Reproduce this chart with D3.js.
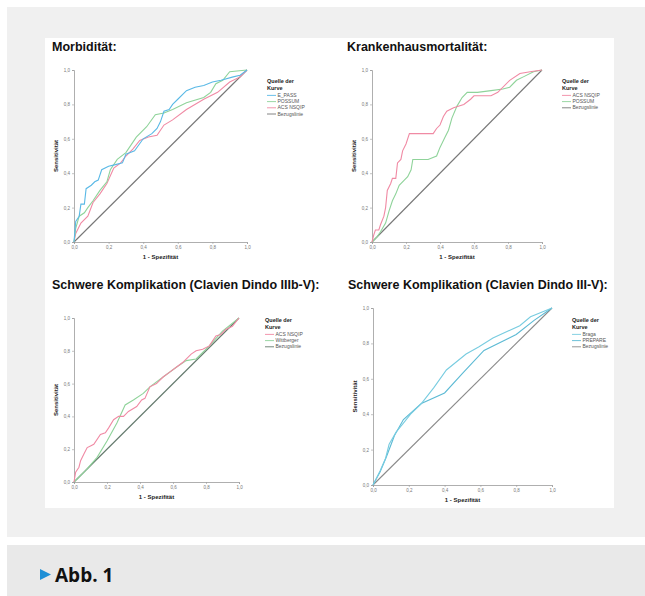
<!DOCTYPE html>
<html>
<head>
<meta charset="utf-8">
<script src="https://cdn.jsdelivr.net/npm/d3@7"></script>
<style>
  body { margin: 0; background: #fff; }
  svg { display: block; font-family: "Liberation Sans", Arial, sans-serif; }
</style>
</head>
<body>
<div id="chart"></div>
<script>
// ROC curves, points as [1 - Spezifität, Sensitivität]
const axisTicks = [0, 0.2, 0.4, 0.6, 0.8, 1.0];
const bezugslinie = [[0, 0], [1, 1]];

const morbEPASS = [[0,0],[0.01,0.12],[0.03,0.15],[0.04,0.22],[0.06,0.22],[0.07,0.31],[0.1,0.33],[0.12,0.35],[0.14,0.36],[0.16,0.42],[0.2,0.44],[0.24,0.45],[0.28,0.46],[0.3,0.51],[0.35,0.53],[0.4,0.6],[0.45,0.63],[0.48,0.66],[0.5,0.7],[0.52,0.76],[0.55,0.77],[0.57,0.8],[0.6,0.83],[0.65,0.88],[0.7,0.9],[0.75,0.91],[0.8,0.93],[0.85,0.94],[0.92,0.96],[0.96,0.97],[1,1]];
const morbPOSSUM = [[0,0],[0.01,0.08],[0.03,0.15],[0.06,0.17],[0.08,0.2],[0.11,0.24],[0.15,0.3],[0.19,0.35],[0.21,0.42],[0.25,0.48],[0.3,0.52],[0.36,0.61],[0.42,0.67],[0.47,0.74],[0.52,0.75],[0.57,0.77],[0.65,0.81],[0.75,0.84],[0.79,0.87],[0.82,0.92],[0.86,0.94],[0.9,0.99],[1,1]];
const morbACS = [[0,0],[0.01,0.05],[0.04,0.11],[0.08,0.15],[0.11,0.23],[0.15,0.28],[0.19,0.34],[0.23,0.43],[0.27,0.46],[0.3,0.5],[0.34,0.54],[0.38,0.59],[0.43,0.61],[0.48,0.62],[0.52,0.68],[0.57,0.71],[0.65,0.77],[0.75,0.83],[0.83,0.87],[0.9,0.93],[0.96,0.96],[1,1]];

const mortACS = [[0,0],[0.01,0.04],[0.02,0.07],[0.04,0.07],[0.05,0.1],[0.07,0.15],[0.08,0.2],[0.09,0.3],[0.11,0.34],[0.12,0.37],[0.14,0.37],[0.15,0.46],[0.17,0.48],[0.18,0.53],[0.2,0.57],[0.22,0.63],[0.36,0.63],[0.38,0.66],[0.4,0.68],[0.42,0.73],[0.44,0.76],[0.48,0.78],[0.54,0.8],[0.58,0.83],[0.6,0.85],[0.7,0.85],[0.74,0.87],[0.81,0.94],[0.87,0.98],[0.93,0.99],[1,1]];
const mortPOSSUM = [[0,0],[0.03,0.03],[0.05,0.06],[0.08,0.11],[0.1,0.18],[0.12,0.24],[0.14,0.28],[0.16,0.33],[0.19,0.36],[0.21,0.38],[0.23,0.42],[0.24,0.48],[0.33,0.48],[0.38,0.5],[0.4,0.55],[0.43,0.61],[0.45,0.65],[0.47,0.72],[0.5,0.79],[0.53,0.84],[0.56,0.87],[0.62,0.87],[0.7,0.88],[0.77,0.89],[0.81,0.9],[0.85,0.94],[0.89,0.96],[0.95,0.99],[1,1]];

const komplACS = [[0,0],[0.01,0.06],[0.03,0.09],[0.04,0.13],[0.06,0.17],[0.08,0.21],[0.1,0.22],[0.12,0.23],[0.16,0.29],[0.19,0.3],[0.21,0.33],[0.24,0.38],[0.27,0.4],[0.3,0.4],[0.33,0.43],[0.38,0.46],[0.41,0.5],[0.43,0.51],[0.46,0.58],[0.5,0.6],[0.54,0.64],[0.58,0.67],[0.62,0.7],[0.66,0.73],[0.71,0.78],[0.74,0.8],[0.78,0.81],[0.82,0.83],[0.86,0.89],[0.89,0.9],[0.92,0.93],[0.96,0.95],[1,1]];
const komplWittberger = [[0,0],[0.07,0.07],[0.14,0.15],[0.2,0.25],[0.26,0.36],[0.31,0.47],[0.36,0.5],[0.42,0.54],[0.46,0.58],[0.54,0.64],[0.62,0.7],[0.68,0.74],[0.74,0.75],[0.82,0.83],[0.9,0.92],[1,1]];

const braga = [[0,0],[0.04,0.08],[0.07,0.15],[0.09,0.23],[0.13,0.3],[0.17,0.35],[0.21,0.4],[0.27,0.46],[0.34,0.55],[0.41,0.65],[0.52,0.74],[0.59,0.78],[0.67,0.83],[0.82,0.9],[0.88,0.95],[1,1]];
const prepare = [[0,0],[0.04,0.075],[0.075,0.16],[0.12,0.28],[0.17,0.37],[0.27,0.46],[0.4,0.52],[0.5,0.63],[0.62,0.76],[0.8,0.85],[0.9,0.93],[1,1]];

const panels = [
  { title: "Morbidität:", tx: 52, ty: 51, x0: 74, x1: 247, y0: 70, y1: 242, lx: 267, ly: 83,
    series: [
      { name: "E_PASS", data: morbEPASS, color: "#5ab9e6" },
      { name: "POSSUM", data: morbPOSSUM, color: "#8fd39a" },
      { name: "ACS NSQIP", data: morbACS, color: "#f08aa4" },
      { name: "Bezugslinie", data: bezugslinie, color: "#777777" }] },
  { title: "Krankenhausmortalität:", tx: 347, ty: 51, x0: 372, x1: 542, y0: 70, y1: 242, lx: 562, ly: 83,
    series: [
      { name: "ACS NSQIP", data: mortACS, color: "#f08aa4" },
      { name: "POSSUM", data: mortPOSSUM, color: "#8fd39a" },
      { name: "Bezugslinie", data: bezugslinie, color: "#777777" }] },
  { title: "Schwere Komplikation (Clavien Dindo IIIb-V):", tx: 52, ty: 289, x0: 74, x1: 239, y0: 318, y1: 482, lx: 265, ly: 322,
    series: [
      { name: "ACS NSQIP", data: komplACS, color: "#f08aa4" },
      { name: "Wittberger", data: komplWittberger, color: "#8fd39a" },
      { name: "Bezugslinie", data: bezugslinie, color: "#647a6d" }] },
  { title: "Schwere Komplikation (Clavien Dindo III-V):", tx: 348, ty: 289, x0: 373, x1: 552, y0: 308, y1: 485, lx: 572, ly: 322,
    series: [
      { name: "Braga", data: braga, color: "#78cce0" },
      { name: "PREPARE", data: prepare, color: "#5cbad4" },
      { name: "Bezugslinie", data: bezugslinie, color: "#8a8a8a" }] }
];

const W = 645, H = 596;
const svg = d3.select("#chart").append("svg")
  .attr("width", W)
  .attr("height", H);

// backgrounds
svg.append("rect").attr("x", 7).attr("y", 7).attr("width", W - 7).attr("height", 530).attr("fill", "#f0f0f0");
svg.append("rect").attr("x", 45).attr("y", 38).attr("width", 569).attr("height", 470).attr("fill", "#ffffff");
svg.append("rect").attr("x", 7).attr("y", 545).attr("width", W - 7).attr("height", 51).attr("fill", "#e9e9e9");

// caption
svg.append("path").attr("d", "M40,569 L51,574.5 L40,580 Z").attr("fill", "#1e8fd6");
svg.append("text")
  .attr("x", 55).attr("y", 582)
  .attr("font-family", "'Liberation Sans Narrow', 'Open Sans', sans-serif")
  .attr("font-weight", "bold")
  .attr("font-size", 19)
  .attr("fill", "#111")
  .text("Abb. 1");

const fmt = d => d.toFixed(1).replace(".", ",");

panels.forEach(p => {
  const g = svg.append("g");

  g.append("text")
    .attr("x", p.tx).attr("y", p.ty)
    .attr("font-weight", "bold")
    .attr("font-size", 12.5)
    .attr("fill", "#111")
    .text(p.title);

  const x = d3.scaleLinear().domain([0, 1]).range([p.x0, p.x1]);
  const y = d3.scaleLinear().domain([0, 1]).range([p.y1, p.y0]);

  const xAxis = g.append("g")
    .attr("transform", `translate(0,${p.y1})`)
    .call(d3.axisBottom(x).tickValues(axisTicks).tickFormat(fmt).tickSize(2).tickPadding(2));
  const yAxis = g.append("g")
    .attr("transform", `translate(${p.x0},0)`)
    .call(d3.axisLeft(y).tickValues(axisTicks).tickFormat(fmt).tickSize(2).tickPadding(2));

  [xAxis, yAxis].forEach(a => {
    a.select(".domain").attr("stroke", "#9a9a9a").attr("stroke-width", 0.8);
    a.selectAll(".tick line").attr("stroke", "#9a9a9a").attr("stroke-width", 0.6);
    a.selectAll(".tick text").attr("font-size", 4.5).attr("fill", "#777").attr("font-family", "'Liberation Sans', Arial, sans-serif");
  });

  g.append("text")
    .attr("x", (p.x0 + p.x1) / 2).attr("y", p.y1 + 17)
    .attr("text-anchor", "middle")
    .attr("font-weight", "bold")
    .attr("font-size", 6)
    .attr("fill", "#222")
    .text("1 - Spezifität");

  g.append("text")
    .attr("transform", `translate(${p.x0 - 16},${(p.y0 + p.y1) / 2}) rotate(-90)`)
    .attr("text-anchor", "middle")
    .attr("font-weight", "bold")
    .attr("font-size", 6)
    .attr("fill", "#222")
    .text("Sensitivität");

  const line = d3.line().x(d => x(d[0])).y(d => y(d[1]));

  // reference line first, curves on top
  p.series.slice().reverse().forEach(s => {
    g.append("path")
      .datum(s.data)
      .attr("d", line)
      .attr("fill", "none")
      .attr("stroke", s.color)
      .attr("stroke-width", 1.1);
  });

  // legend
  const lg = g.append("g").attr("transform", `translate(${p.lx},${p.ly})`);
  lg.append("text").attr("font-weight", "bold").attr("font-size", 5.5).attr("fill", "#222").text("Quelle der");
  lg.append("text").attr("y", 7).attr("font-weight", "bold").attr("font-size", 5.5).attr("fill", "#222").text("Kurve");
  p.series.forEach((s, i) => {
    const yy = 14 + i * 6.2;
    lg.append("line")
      .attr("x1", 0).attr("x2", 9)
      .attr("y1", yy - 1.6).attr("y2", yy - 1.6)
      .attr("stroke", s.color).attr("stroke-width", 0.9);
    lg.append("text")
      .attr("x", 10.5).attr("y", yy)
      .attr("font-size", 5)
      .attr("fill", "#555")
      .text(s.name);
  });
});
</script>
</body>
</html>
